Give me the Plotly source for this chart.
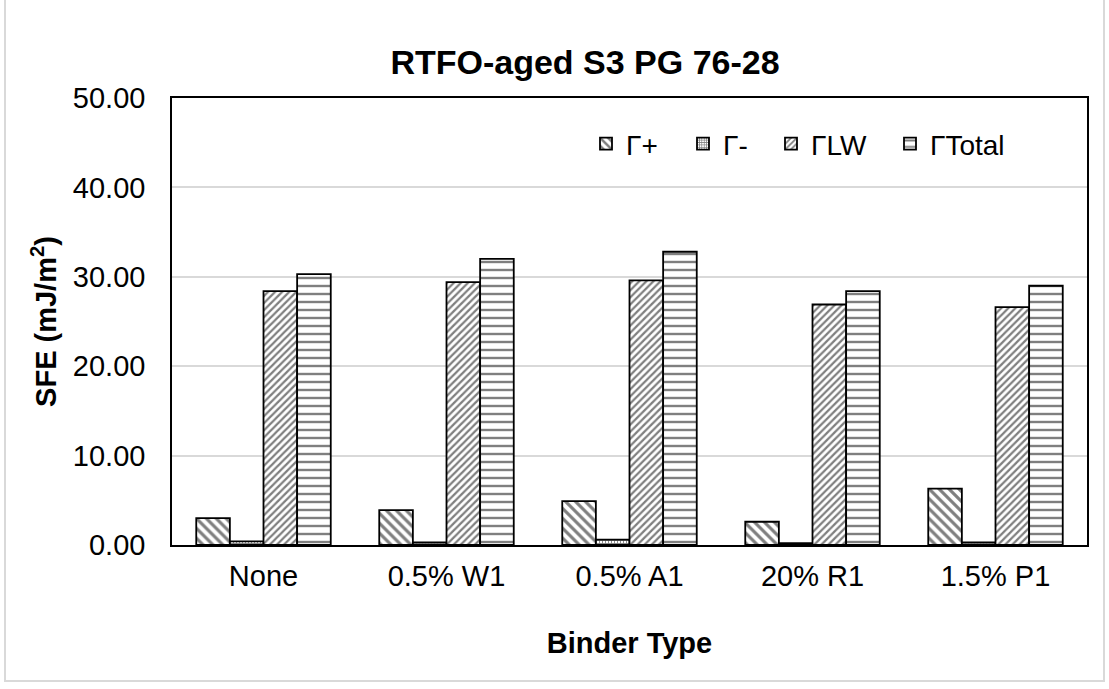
import plotly.graph_objs as go


BINDERS = ['None', '0.5% W1', '0.5% A1', '20% R1', '1.5% P1']
GAMMA_PLUS = [3.0, 3.9, 4.9, 2.6, 6.3]
GAMMA_MINUS = [0.4, 0.3, 0.6, 0.2, 0.3]
GAMMA_LW = [28.4, 29.4, 29.6, 26.9, 26.6]
GAMMA_TOTAL = [30.3, 32.0, 32.8, 28.4, 29.0]
Y_TICKS = [0, 10, 20, 30, 40, 50]

FONT = 'Liberation Sans, Arial, sans-serif'
W, H = 1109, 689
MARGINS = dict(l=172, r=22, t=98, b=144)
PW = W - MARGINS['l'] - MARGINS['r']
PH = H - MARGINS['t'] - MARGINS['b']


def px_x(x):
    return (x - MARGINS['l']) / PW


def px_y(y):
    return (H - MARGINS['b'] - y) / PH


# name, values, fill pattern, legend id, legend symbol centre (px)
SERIES = [
    ('Γ+', GAMMA_PLUS, dict(shape='\\', size=7, solidity=0.45), 'legend', 607),
    ('Γ-', GAMMA_MINUS, dict(shape='+', size=3, solidity=0.5), 'legend2', 704),
    ('ΓLW', GAMMA_LW, dict(shape='/', size=5, solidity=0.45), 'legend3', 792),
    ('ΓTotal', GAMMA_TOTAL, dict(shape='-', size=8, solidity=0.3), 'legend4', 911),
]

fig = go.Figure()
legends = {}
for name, values, pattern, legend_id, sym_x in SERIES:
    fig.add_trace(go.Bar(
        x=BINDERS,
        y=values,
        name=name,
        legend=legend_id,
        showlegend=True,
        marker=dict(
            color='white',
            line=dict(color='black', width=1.8),
            pattern=dict(fgcolor='black', bgcolor='white', fillmode='overlay', **pattern),
        ),
    ))
    legends[legend_id] = dict(
        x=px_x(sym_x - 21), xanchor='left',
        y=px_y(144), yanchor='middle',
        bgcolor='rgba(0,0,0,0)',
        font=dict(size=28, family=FONT, color='black'),
        itemwidth=30,
    )

fig.update_layout(
    width=W,
    height=H,
    autosize=False,
    showlegend=True,
    margin=MARGINS,
    paper_bgcolor='white',
    plot_bgcolor='white',
    font=dict(family=FONT, size=29, color='black'),
    barmode='group',
    bargap=0.265,
    bargroupgap=0,
    title=dict(
        text='<b>RTFO-aged S3 PG 76-28</b>',
        x=px_x(585), xref='paper', xanchor='center',
        y=1 - 62 / H, yanchor='middle',
        font=dict(size=34, family=FONT, color='black'),
    ),
    xaxis=dict(
        title=dict(text='<b>Binder Type</b>', font=dict(size=29), standoff=42),
        showline=True, linecolor='black', linewidth=1.5,
        mirror=True, automargin=False,
        ticks='', ticklabelstandoff=4,
        tickfont=dict(size=29),
    ),
    yaxis=dict(
        title=dict(text='<b>SFE (mJ/m<sup>2</sup>)</b>', font=dict(size=29), standoff=8),
        range=[0, 50],
        tickvals=Y_TICKS,
        tickformat='.2f',
        showline=True, linecolor='black', linewidth=1.5,
        mirror=True, automargin=False,
        showgrid=True, gridcolor='#d9d9d9', gridwidth=1.5,
        zeroline=False,
        ticks='', ticklabelstandoff=19,
        tickfont=dict(size=29),
    ),
    shapes=[dict(
        type='rect', xref='paper', yref='paper',
        x0=px_x(5), x1=px_x(1104), y0=px_y(681), y1=px_y(-5),
        line=dict(color='#d9d9d9', width=2), fillcolor='rgba(0,0,0,0)',
        layer='below',
    )],
    **legends,
)

fig.write_html('out.html', config={'displayModeBar': False},
               post_script="document.body.style.margin='0';")
